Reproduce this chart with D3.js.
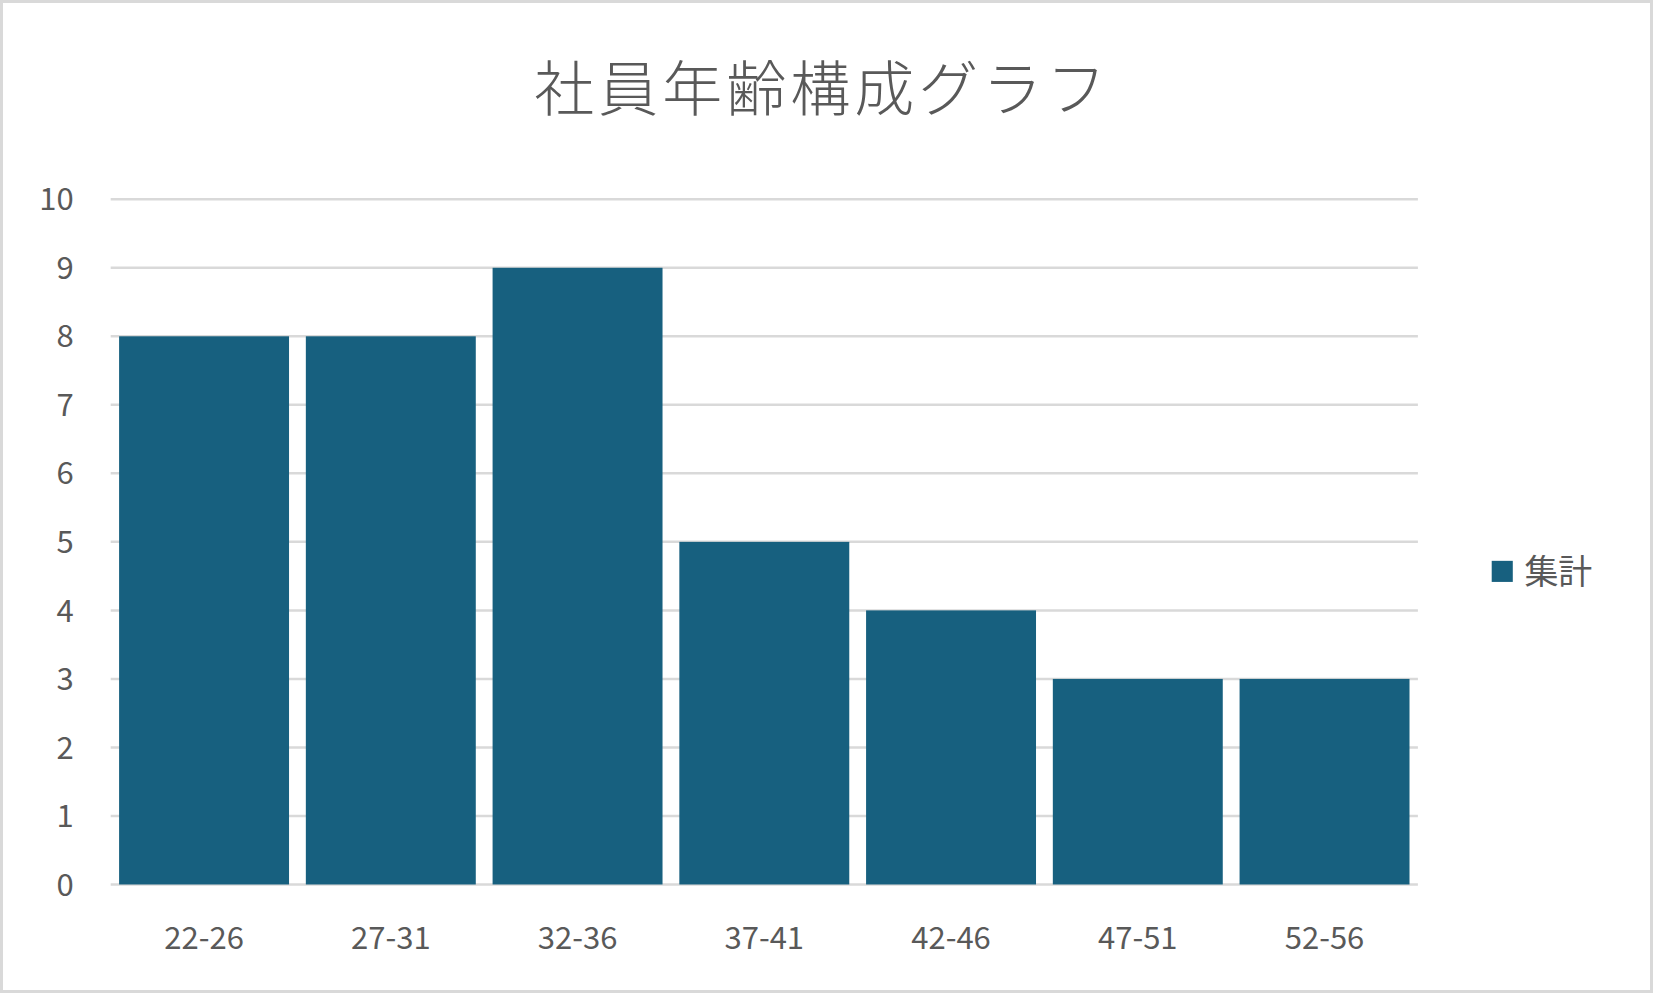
<!DOCTYPE html><html><head><meta charset="utf-8">
<script src="https://cdn.jsdelivr.net/npm/d3@7"></script>
<style>body{margin:0;background:#fff}</style></head><body>
<svg id="c" width="1653" height="993"></svg>
<script>
const categories=["22-26","27-31","32-36","37-41","42-46","47-51","52-56"];
const values=[8,8,9,5,4,3,3];
const yTicks=[0,1,2,3,4,5,6,7,8,9,10];
const seriesName="集計";
const title="社員年齢構成グラフ";
const k=1653/1568;
const svg=d3.select("#c");
const font="'Noto Sans CJK JP','Noto Sans',sans-serif";
svg.append("rect").attr("x",1.5).attr("y",1.5).attr("width",1650).attr("height",990).attr("fill","#fff").attr("stroke","#d9d9d9").attr("stroke-width",3);
const L=105*k,R=1345*k,T=189*k,B=839*k;
const x=d3.scaleBand().domain(categories).range([L,R]).paddingInner(0.09).paddingOuter(0.045);
const y=d3.scaleLinear().domain([0,10]).range([B,T]);
svg.append("g").selectAll("line").data(yTicks).join("line")
 .attr("x1",L).attr("x2",R).attr("y1",d=>y(d)).attr("y2",d=>y(d)).attr("stroke","#d9d9d9").attr("stroke-width",2.5);
svg.append("g").selectAll("rect").data(values).join("rect")
 .attr("x",(d,i)=>x(categories[i])).attr("width",x.bandwidth()).attr("y",d=>y(d)).attr("height",d=>B-y(d)).attr("fill","#17607f");
svg.append("g").selectAll("text").data(yTicks).join("text")
 .attr("x",70*k).attr("y",d=>y(d)).attr("dy","0.36em").attr("text-anchor","end")
 .attr("font-family",font).attr("font-size",31).attr("fill","#595959").text(d=>d);
svg.append("g").selectAll("text").data(categories).join("text")
 .attr("x",d=>x(d)+x.bandwidth()/2).attr("y",890*k).attr("dy","0.36em").attr("text-anchor","middle")
 .attr("font-family",font).attr("font-size",31).attr("fill","#595959").text(d=>d);
svg.append("text").attr("x",780*k).attr("y",85*k).attr("dy","0.36em").attr("text-anchor","middle")
 .attr("font-family",font).attr("font-size",60).attr("font-weight",300).attr("fill","#595959").attr("letter-spacing",4).text(title);
svg.append("rect").attr("x",1415*k).attr("y",532*k).attr("width",20*k).attr("height",20*k).attr("fill","#17607f");
svg.append("text").attr("x",1446*k).attr("y",542*k).attr("dy","0.36em")
 .attr("font-family",font).attr("font-size",34).attr("fill","#595959").text(seriesName);
</script></body></html>
